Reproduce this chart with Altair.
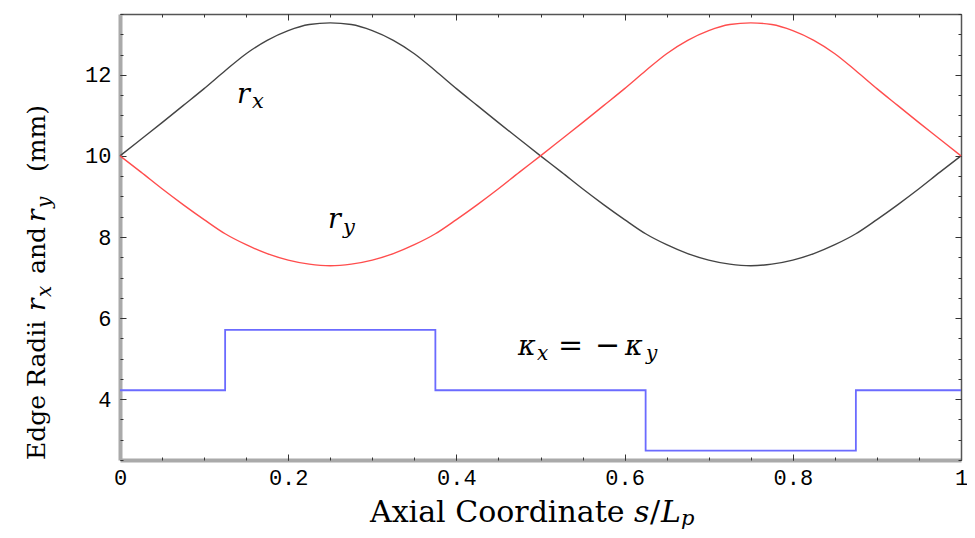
import altair as alt
import pandas as pd

# ---------------- data ----------------
s_grid = [0.0, 0.025, 0.05, 0.075, 0.1, 0.125, 0.15, 0.175, 0.2, 0.225,
          0.25, 0.275, 0.3, 0.325, 0.35, 0.375, 0.4, 0.425, 0.45, 0.475,
          0.5, 0.525, 0.55, 0.575, 0.6, 0.625, 0.65, 0.675, 0.7, 0.725,
          0.75, 0.775, 0.8, 0.825, 0.85, 0.875, 0.9, 0.925, 0.95, 0.975, 1.0]
r_x = [10.00, 10.41, 10.82, 11.24, 11.66, 12.10, 12.52, 12.85, 13.09, 13.24,
       13.28, 13.24, 13.09, 12.85, 12.52, 12.10, 11.66, 11.24, 10.82, 10.41,
       10.00, 9.60, 9.19, 8.80, 8.43, 8.08, 7.81, 7.59, 7.43, 7.33,
       7.29, 7.33, 7.43, 7.59, 7.81, 8.08, 8.43, 8.80, 9.19, 9.60, 10.00]
r_y = [10.00, 9.60, 9.19, 8.80, 8.43, 8.08, 7.81, 7.59, 7.43, 7.33,
       7.29, 7.33, 7.43, 7.59, 7.81, 8.08, 8.43, 8.80, 9.19, 9.60,
       10.00, 10.41, 10.82, 11.24, 11.66, 12.10, 12.52, 12.85, 13.09, 13.24,
       13.28, 13.24, 13.09, 12.85, 12.52, 12.10, 11.66, 11.24, 10.82, 10.41, 10.00]
kappa_s = [0.0, 0.125, 0.375, 0.625, 0.875, 1.0]
kappa_v = [4.22, 5.71, 4.22, 2.73, 4.22, 4.22]

x_major = [0, 0.2, 0.4, 0.6, 0.8, 1]
x_minor = [0, 0.05, 0.1, 0.15, 0.2, 0.25, 0.3, 0.35, 0.4, 0.45, 0.5,
           0.55, 0.6, 0.65, 0.7, 0.75, 0.8, 0.85, 0.9, 0.95, 1]
y_major = [4, 6, 8, 10, 12]
y_minor = [2.5, 3, 3.5, 4, 4.5, 5, 5.5, 6, 6.5, 7, 7.5, 8, 8.5, 9, 9.5, 10,
           10.5, 11, 11.5, 12, 12.5, 13, 13.5]

# ---------------- chart ----------------
W, H = 841, 446
xs = alt.Scale(domain=[0, 1], nice=False, zero=False)
ys = alt.Scale(domain=[2.5, 13.5], nice=False, zero=False)

SERIF = "DejaVu Serif"
MONO = "Liberation Mono"
TICKC = "#333333"


def blank(orient, **kw):
    base = dict(orient=orient, title=None, grid=False, labels=False,
                ticks=False, domain=False)
    base.update(kw)
    return alt.Axis(**base)


def tick_axis(orient, values, size):
    return blank(orient, values=values, ticks=True, tickSize=size,
                 offset=-size, tickColor=TICKC, tickWidth=1)


ax_bottom_lab = blank("bottom", values=x_major, format="~g", labels=True,
                      labelFont=MONO, labelFontSize=22, labelColor="black",
                      labelPadding=7, labelFlush=False, labelOverlap=False,
                      domain=True, domainColor="#aaaaaa", domainWidth=4)
ax_left_lab = blank("left", values=y_major, format="d", labels=True,
                    labelFont=MONO, labelFontSize=22, labelColor="black",
                    labelPadding=9, labelOverlap=False,
                    domain=True, domainColor="#aaaaaa", domainWidth=4)
ax_top_dom = blank("top", domain=True, domainColor="#555555", domainWidth=1.5)
ax_right_dom = blank("right", domain=True, domainColor="#555555", domainWidth=1.5)

df_r = pd.DataFrame({"s": s_grid, "rx": r_x, "ry": r_y})
df_k = pd.DataFrame({"s": kappa_s, "k": kappa_v})

rx_line = alt.Chart(df_r).mark_line(color="#444444", strokeWidth=1.4,
                                    interpolate="monotone").encode(
    x=alt.X("s:Q", scale=xs, axis=ax_bottom_lab),
    y=alt.Y("rx:Q", scale=ys, axis=ax_left_lab),
)
ry_line = alt.Chart(df_r).mark_line(color="#ff4d4d", strokeWidth=1.4,
                                    interpolate="monotone").encode(
    x=alt.X("s:Q", scale=xs, axis=tick_axis("bottom", x_major, 6)),
    y=alt.Y("ry:Q", scale=ys, axis=tick_axis("left", y_major, 6)),
)
k_line = alt.Chart(df_k).mark_line(color="#6b6bff", strokeWidth=1.8,
                                   interpolate="step-after").encode(
    x=alt.X("s:Q", scale=xs, axis=tick_axis("bottom", x_minor, 3)),
    y=alt.Y("k:Q", scale=ys, axis=tick_axis("left", y_minor, 3)),
)


def piece(s, v, text, size, italic=False, dx=0, dy=0, angle=0,
          xaxis=None, yaxis=None):
    df = pd.DataFrame({"s": [s], "v": [v]})
    kw = dict(text=text, font=SERIF, fontSize=size, align="left",
              baseline="alphabetic", dx=dx, dy=dy, color="black")
    if italic:
        kw["fontStyle"] = "italic"
    if angle:
        kw["angle"] = angle
    return alt.Chart(df).mark_text(**kw).encode(
        x=alt.X("s:Q", scale=xs, axis=xaxis),
        y=alt.Y("v:Q", scale=ys, axis=yaxis),
    )


layers = [rx_line, ry_line, k_line]

# r_x label
layers.append(piece(0.1391, 11.31, "r", 27, italic=True,
                    xaxis=ax_top_dom, yaxis=ax_right_dom))
layers.append(piece(0.1391, 11.31, "x", 21, italic=True, dx=15, dy=5,
                    xaxis=tick_axis("top", x_major, 6),
                    yaxis=tick_axis("right", y_major, 6)))
# r_y label
layers.append(piece(0.2473, 8.22, "r", 27, italic=True,
                    xaxis=tick_axis("top", x_minor, 3),
                    yaxis=tick_axis("right", y_minor, 3)))
layers.append(piece(0.2473, 8.22, "y", 21, italic=True, dx=15, dy=6))

# kappa_x = -kappa_y
kx, kv = 0.4733, 5.09
layers.append(piece(kx, kv, "κ", 27, italic=True))
layers.append(piece(kx, kv, "x", 20, italic=True, dx=19, dy=5))
layers.append(piece(kx, kv, "=", 30, dx=40))
layers.append(piece(kx, kv, "−", 30, dx=77))
layers.append(piece(kx, kv, "κ", 27, italic=True, dx=107))
layers.append(piece(kx, kv, "y", 20, italic=True, dx=128, dy=5))

# x-axis title: Axial Coordinate s/L_p
tx, tv = 0.2973, 0.97
layers.append(piece(tx, tv, "Axial Coordinate", 30))
layers.append(piece(tx, tv, "s", 30, italic=True, dx=264))
layers.append(piece(tx, tv, "/", 30, dx=280))
layers.append(piece(tx, tv, "L", 30, italic=True, dx=291))
layers.append(piece(tx, tv, "p", 21, italic=True, dx=311, dy=3))

# y-axis title: Edge Radii r_x and r_y (mm)
yx, yv = -0.0892, 2.50
layers.append(piece(yx, yv, "Edge Radii", 25, angle=270))
layers.append(piece(yx, yv, "r", 26, italic=True, dx=149, angle=270))
layers.append(piece(yx, yv, "x", 20, italic=True, dx=163, dy=6, angle=270))
layers.append(piece(yx, yv, "and", 25, dx=186, angle=270))
layers.append(piece(yx, yv, "r", 26, italic=True, dx=238, angle=270))
layers.append(piece(yx, yv, "y", 20, italic=True, dx=252, dy=6, angle=270))
layers.append(piece(yx, yv, "(mm)", 25, dx=288, angle=270))

chart = alt.layer(*layers).resolve_axis(
    x="independent", y="independent"
).properties(
    width=W, height=H,
    autosize=alt.AutoSizeParams(type="none"),
    padding={"left": 112, "top": 6, "right": 6, "bottom": 70},
).configure_view(strokeWidth=0)

chart.save("out.html", embed_options={"renderer": "svg", "actions": False})
